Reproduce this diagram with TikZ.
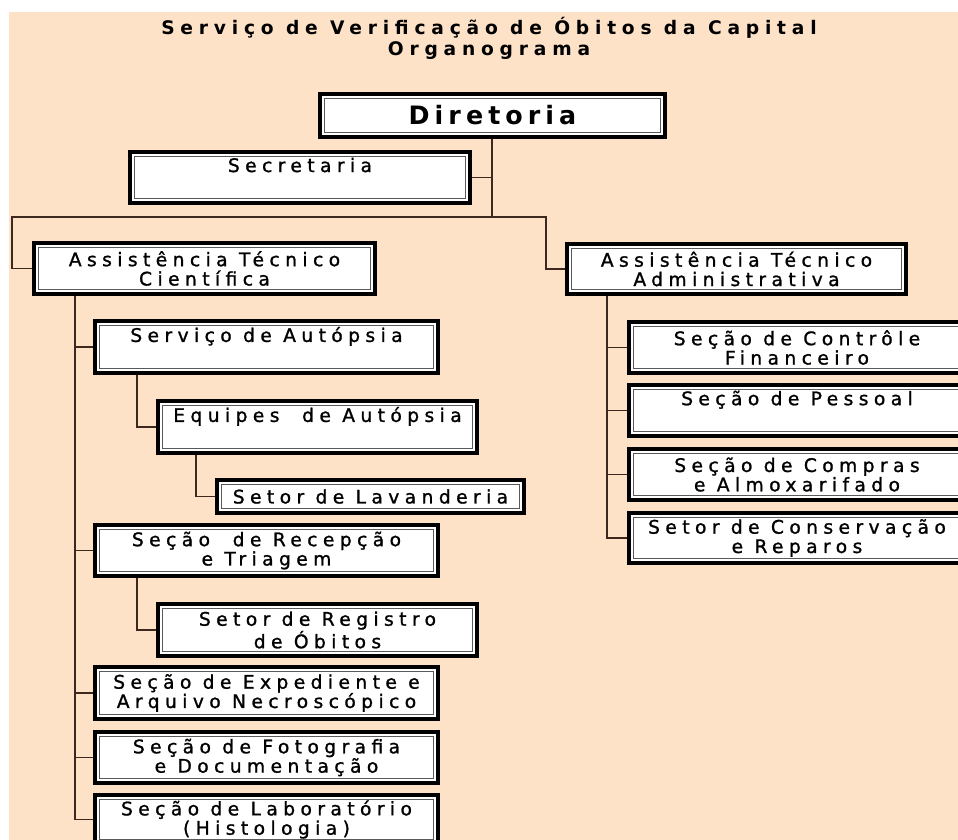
\documentclass[tikz,border=0pt]{standalone}
\usepackage{fontspec}
\newfontfamily\boxfont{DejaVu Sans}[LetterSpace=29,FakeBold=1.2]
\newfontfamily\ttlfont{DejaVu Sans}[LetterSpace=31]
\newfontfamily\dirfont{DejaVu Sans}[LetterSpace=20]
\definecolor{peach}{RGB}{253,226,200}
\definecolor{conn}{RGB}{60,40,30}
\tikzset{
  obox/.style={draw=black, line width=3pt, fill=white, inner sep=0pt, align=center,
    font=\boxfont\fontsize{14}{14.5}\selectfont},
  innerline/.style={draw=black!65, line width=0.7pt},
  link/.style={draw=conn, line width=1pt},
}
\newcommand\orgbox[7][]{%
  \node[obox,#1, minimum width={(#5-#3-4)*0.75pt}, minimum height={(#6-#4-4)*0.75pt}]
    (#2) at ({(#3+#5)/2},{(#4+#6)/2}) {#7};
  \draw[innerline] ([shift={(6.5,6.5)}]#2.north west) rectangle ([shift={(-6.5,-6.5)}]#2.south east);
}
\begin{document}
\begin{tikzpicture}[x=0.75pt,y=-0.75pt]
\useasboundingbox (0,0) rectangle (958,840);
\clip (0,0) rectangle (958,840);
\fill[white] (0,0) rectangle (958,840);
\fill[peach] (9,12) rectangle (958,840);

\node[align=center, font=\ttlfont\bfseries\fontsize{14}{15.75}\selectfont] (title) at (489,38)
  {Serviço de Verificação de Óbitos da Capital\\Organograma};

\orgbox[font=\dirfont\bfseries\fontsize{19}{22}\selectfont]{dir}{318}{92}{667}{139}{Diretoria}
\orgbox{sec}{128}{150}{472}{205}{Secretaria\\\strut}
\orgbox{atc}{32}{241}{377}{296}{Assistência Técnico\\Científica}
\orgbox{ata}{565}{242}{908}{296}{Assistência Técnico\\Administrativa}
\orgbox{aut}{93}{319}{440}{375}{Serviço de Autópsia\\\strut}
\orgbox{equ}{156}{399}{479}{455}{Equipes\ \ de Autópsia\\\strut}
\orgbox{lav}{215}{478}{526}{515}{Setor de Lavanderia}
\orgbox{rec}{93}{523}{440}{578}{Seção\ \ de Recepção\\e Triagem}
\orgbox{reg}{156}{602}{479}{658}{Setor de Registro\\de Óbitos}
\orgbox{exp}{93}{665}{440}{721}{Seção de Expediente e\\Arquivo Necroscópico}
\orgbox{fot}{93}{730}{440}{785}{Seção de Fotografia\\e Documentação}
\orgbox{lab}{93}{793}{440}{846}{Seção de Laboratório\\(Histologia)}
\orgbox{fin}{627}{320}{967}{375}{Seção de Contrôle\\Financeiro}
\orgbox{pes}{627}{383}{967}{438}{Seção de Pessoal\\\strut}
\orgbox{com}{627}{447}{967}{502}{Seção de Compras\\e Almoxarifado}
\orgbox{con}{627}{511}{967}{565}{Setor de Conservação\\e Reparos}

% connectors
\coordinate (jd) at (492,217);
\coordinate (jl) at (12,217);
\coordinate (jr) at (546,217);
\draw[link] (dir.south -| jd) -- (jd);
\draw[link] (sec.east) -- (sec.east -| jd);
\draw[link] (atc.west) -| (jl) -- (jr) |- (ata.west);

\coordinate (tl) at (75,0);
\draw[link] (atc.south -| tl) |- (lab.west);
\foreach \n in {aut,rec,exp,fot} \draw[link] (\n.west) -- (\n.west -| tl);
\coordinate (ta) at (137,0);
\coordinate (te) at (196,0);
\draw[link] (aut.south -| ta) |- (equ.west);
\draw[link] (equ.south -| te) |- (lav.west);
\draw[link] (rec.south -| ta) |- (reg.west);

\coordinate (tr) at (607,0);
\draw[link] (ata.south -| tr) |- (con.west);
\foreach \n in {fin,pes,com} \draw[link] (\n.west) -- (\n.west -| tr);
\end{tikzpicture}
\end{document}
